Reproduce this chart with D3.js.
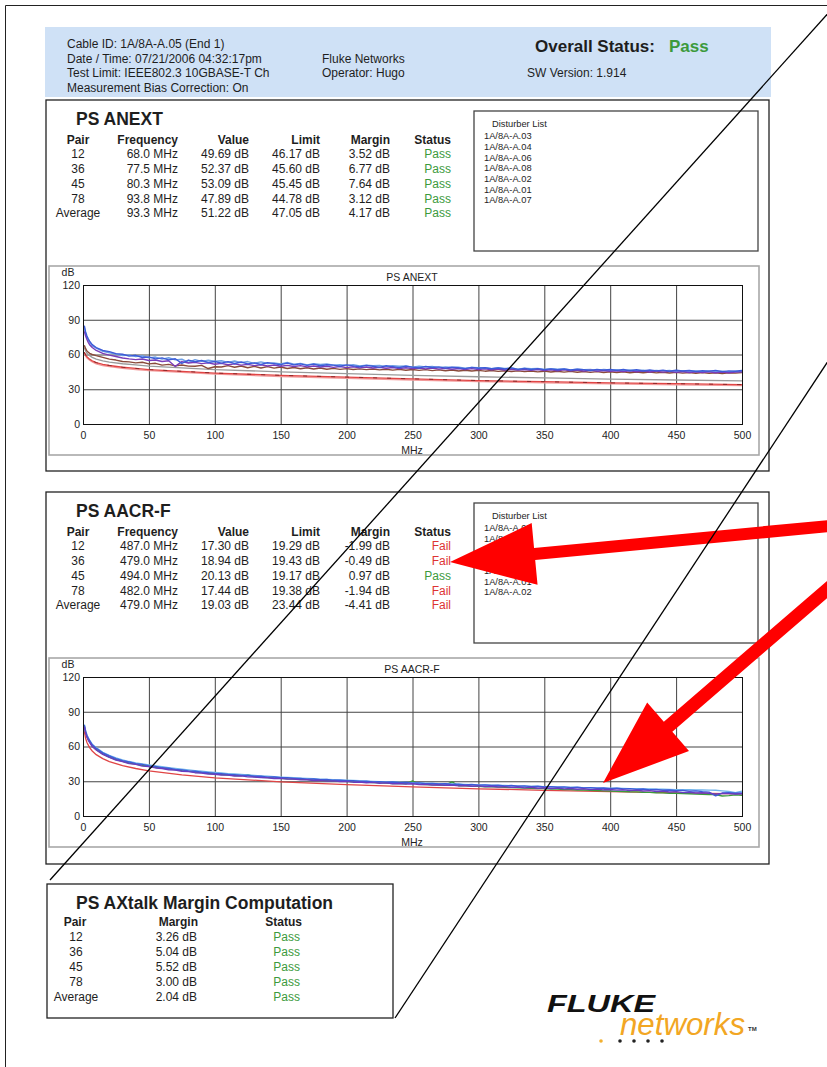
<!DOCTYPE html>
<html><head><meta charset="utf-8">
<script src="https://cdn.jsdelivr.net/npm/d3@7/dist/d3.min.js"></script>
<style>
html,body{margin:0;padding:0;background:#fff;}
svg{display:block;font-family:"Liberation Sans",Arial,sans-serif;}
</style></head><body>
<svg id="page" width="827" height="1067"></svg>
<script>
// ---- sweep frequencies (MHz) of the measured traces ----
const sweepMHz = [1,2,3,4,5,7,10,
 15,20,25,30,35,40,45,50,55,60,65,70,75,80,85,90,95,100,
 105,110,115,120,125,130,135,140,145,150,155,160,165,170,175,180,185,190,195,200,
 205,210,215,220,225,230,235,240,245,250,255,260,265,270,275,280,285,290,295,300,
 305,310,315,320,325,330,335,340,345,350,355,360,365,370,375,380,385,390,395,400,
 405,410,415,420,425,430,435,440,445,450,455,460,465,470,475,480,485,490,495,500];
// frequencies of the limit curves (MHz)
const limitMHz = [1,2,3,5,7,10,15,20,30,40,50,75,100,150,200,250,300,350,400,450,500];

// ---- PS ANEXT traces (dB) ----
const anextPair45 = [83,78,75,72.5,70.5,67.5,65.5,
 62.8,61.5,60.4,59.0,59.6,58.2,58.9,57.1,57.8,56.0,57.2,55.4,55.9,53.1,55.6,54.1,55.0,54.3,
 54.6,53.2,54.4,53.0,53.9,52.4,53.6,52.2,52.7,51.9,53.1,51.6,52.3,51.0,52.0,51.4,51.9,50.8,51.2,50.6,
 51.3,50.1,50.8,50.3,50.6,49.5,50.3,49.8,50.1,49.0,49.8,49.3,49.6,48.6,49.3,48.9,49.1,48.2,48.9,48.5,
 48.7,47.8,48.6,47.9,48.3,47.4,48.1,47.7,47.9,47.0,47.8,47.3,47.5,46.7,47.3,46.9,47.2,46.3,47.0,46.6,
 46.8,46.0,46.7,46.3,46.5,45.7,46.3,45.9,46.2,45.4,46.0,45.7,45.9,45.1,45.8,45.5,45.6,44.9,45.5,45.3];
const anextPair36 = [85,79.5,76,73.5,71.5,68.5,66,
 63.5,62.5,60.8,60.2,58.6,59.3,57.4,57.9,56.2,57.1,55.4,56.3,52.4,55.2,53.7,54.8,53.1,54.0,
 52.6,53.8,52.2,53.5,51.9,52.8,51.4,53.0,52.1,51.2,52.6,51.0,51.9,50.6,51.7,50.3,51.2,50.8,49.9,51.0,
 50.2,49.4,50.6,49.8,48.9,50.3,49.5,48.7,49.9,49.1,48.4,49.6,48.8,49.3,48.2,49.0,48.5,47.8,48.9,48.1,
 48.6,47.7,48.3,47.5,48.4,47.2,47.9,47.0,47.8,46.9,47.6,46.8,47.5,46.6,47.3,46.9,46.2,47.2,46.5,47.0,
 46.3,47.1,46.0,46.8,45.8,46.6,45.9,46.5,45.5,46.4,45.7,46.2,45.3,46.0,45.6,46.3,45.2,45.9,45.5,46.2];
const anextPair12 = [80,76,73,70.5,68.5,66,63.5,
 61.0,59.5,58.3,57.0,56.2,55.6,56.1,54.8,55.3,54.0,54.6,49.7,53.9,52.7,53.2,52.1,52.8,51.6,
 52.3,51.2,51.9,50.8,51.5,50.4,51.2,50.1,50.9,49.9,50.6,49.6,50.4,49.3,50.1,49.2,49.8,48.9,49.6,48.7,
 49.4,48.5,49.2,48.3,49.0,48.1,48.8,47.9,48.6,47.8,48.4,47.6,48.3,47.4,48.1,47.3,47.9,47.1,47.8,47.0,
 47.6,46.8,47.5,46.6,47.3,46.5,47.1,46.3,47.0,46.2,46.8,46.0,46.7,45.9,46.5,45.7,46.4,45.6,46.2,45.5,
 46.0,45.3,45.9,45.1,45.7,44.9,45.6,44.8,45.4,44.6,45.3,44.5,45.1,44.4,45.0,44.3,44.9,44.2,44.8,45.0];
const anextPair78 = [68,65,63,62,61,60,59,
 57.5,56.0,55.2,54.0,53.6,52.8,53.3,51.9,52.4,50.8,51.5,50.2,50.9,50.0,49.8,50.6,47.9,49.4,
 49.2,50.4,49.0,50.1,48.6,49.7,48.3,49.5,48.2,49.2,47.9,48.8,47.7,48.6,47.5,48.3,47.3,48.0,47.2,47.8,
 47.0,47.6,46.9,47.5,46.7,47.3,46.5,47.2,46.4,47.0,46.3,46.9,46.1,46.7,46.0,46.6,45.8,46.4,45.7,46.3,
 45.6,46.2,45.4,46.0,45.3,45.9,45.2,45.8,45.0,45.6,44.9,45.5,44.8,45.4,44.7,45.3,44.6,45.2,44.5,45.1,
 44.4,45.0,44.3,44.9,44.2,44.8,44.1,44.7,44.0,44.6,43.9,44.5,43.8,44.4,43.7,44.3,43.6,44.2,43.9,44.4];
const anextLimitUpper = [66,63,61,59,57.5,56,54.5,53.5,52,51,50,48.5,47,45,43.5,42,40.8,39.8,38.8,38,37.3];
const anextLimit = [62,59.5,58,56,54.5,53,51.5,50.5,49,48,47,45.5,44,42,40.5,39,37.5,36.5,35.5,34.8,34];
const anextLimitLower = [61,58.5,57,55,53.5,52,50.5,49.5,48,47,46,44.5,43,41,39.5,38,36.6,35.6,34.6,33.9,33.2];

// ---- PS AACR-F traces (dB) ----
const aacrfPair36 = [77,71.5,68,65.5,63.5,60,57,
 53.2,50.6,48.3,47.0,45.2,44.6,43.1,42.6,41.5,41.0,39.9,39.6,38.6,38.3,37.4,37.0,36.2,36.1,
 35.4,35.3,34.5,34.6,33.8,33.7,33.1,33.0,32.4,32.5,31.8,31.9,31.2,31.3,30.6,30.8,30.1,30.3,29.7,29.9,
 29.2,29.4,28.7,29.0,28.3,28.6,27.9,28.1,27.5,27.8,27.1,27.3,26.8,27.0,26.4,26.7,26.0,26.3,25.7,26.0,
 25.4,25.7,25.0,25.4,24.7,25.0,24.3,24.8,24.0,24.4,23.7,24.1,23.4,23.8,23.1,23.5,22.8,23.2,22.6,22.9,
 22.3,22.6,22.0,22.3,21.6,21.9,21.2,21.5,20.7,21.0,20.2,20.5,19.8,20.1,19.6,18.9,19.5,19.3,19.0,19.2];
const aacrfPair78 = [78.5,73,69.5,67,65,61.5,58.5,
 54.5,51.8,49.6,47.8,46.6,45.2,44.6,43.3,42.8,41.6,41.2,40.1,39.8,38.9,38.6,37.8,37.4,36.8,
 36.5,35.9,35.7,35.1,35.0,34.3,34.4,33.6,33.7,33.0,33.1,32.4,32.5,31.8,32.0,31.3,31.5,30.8,31.0,30.4,
 30.5,29.9,30.1,29.5,29.7,29.1,29.3,28.7,28.9,28.3,28.6,27.9,28.2,27.6,27.9,27.2,27.5,26.9,27.2,26.6,
 26.9,26.3,26.6,26.0,26.3,25.7,26.0,25.4,25.7,25.1,25.4,24.8,25.1,24.5,24.8,24.2,24.5,23.9,24.2,23.6,
 23.9,23.3,23.6,23.0,23.3,22.6,22.9,22.2,22.5,21.8,22.1,21.4,21.7,21.0,20.6,17.4,19.8,20.1,19.6,20.0];
const aacrfPair45 = [79,73.5,70,67.5,65.5,62,59,
 55.0,52.3,50.1,48.4,47.0,45.9,45.0,44.1,43.3,42.5,41.8,41.1,40.4,39.8,39.2,38.6,38.1,37.6,
 37.1,36.6,36.2,35.8,35.4,35.0,34.6,34.3,33.9,33.6,33.3,33.0,32.7,32.4,32.1,31.8,31.6,31.3,31.1,30.8,
 30.6,30.4,30.1,29.9,29.7,29.5,29.3,29.1,28.9,28.7,28.5,28.3,28.1,27.9,27.8,27.6,27.4,27.2,27.1,26.9,
 26.7,26.6,26.4,26.3,26.1,26.0,25.8,25.7,25.5,25.4,25.2,25.1,24.9,24.8,24.7,24.5,24.4,24.3,24.1,24.0,
 23.9,23.8,23.6,23.5,23.4,23.3,23.2,23.1,22.9,22.8,22.7,22.6,22.5,22.4,22.3,22.2,21.7,21.2,20.1,21.5];
const aacrfPair12 = [77.5,72,68.5,66,64,60.5,57.5,
 53.6,50.9,48.8,47.2,45.8,44.8,43.8,43.0,42.1,41.4,40.6,40.0,39.2,38.7,37.9,37.5,36.8,36.3,
 35.8,35.4,34.9,34.6,35.6,33.9,33.5,33.2,32.8,32.6,32.2,32.0,31.6,31.4,31.1,30.9,30.6,30.4,30.1,29.9,
 29.6,29.4,29.1,28.9,28.6,28.4,28.1,28.0,27.8,30.3,27.3,27.2,26.9,26.8,26.6,29.5,26.1,26.0,25.7,25.6,
 25.3,25.2,24.9,24.8,24.5,24.4,24.1,24.0,23.7,23.6,23.3,23.2,22.9,22.8,22.5,22.4,22.1,22.0,21.7,21.6,
 21.3,21.2,20.9,20.8,20.5,20.4,20.1,20.0,19.7,19.6,19.3,19.2,18.9,18.8,18.6,18.5,17.3,17.6,18.2,17.9];
const aacrfLimit = [73.0,67.0,63.5,59.0,56.1,53.0,49.5,47.0,43.5,41.0,39.0,35.5,33.0,29.5,27.0,25.1,23.5,22.2,21.0,20.0,19.1];

// ---- axis ticks ----
const xTicks = [0,50,100,150,200,250,300,350,400,450,500];
const yTicks = [0,30,60,90,120];

// ---- result tables ----
const pairs = ["12","36","45","78","Average"];
const anextFreq = ["68.0 MHz","77.5 MHz","80.3 MHz","93.8 MHz","93.3 MHz"];
const anextValue = ["49.69 dB","52.37 dB","53.09 dB","47.89 dB","51.22 dB"];
const anextLimitText = ["46.17 dB","45.60 dB","45.45 dB","44.78 dB","47.05 dB"];
const anextMargin = ["3.52 dB","6.77 dB","7.64 dB","3.12 dB","4.17 dB"];
const anextStatus = ["Pass","Pass","Pass","Pass","Pass"];
const aacrfFreq = ["487.0 MHz","479.0 MHz","494.0 MHz","482.0 MHz","479.0 MHz"];
const aacrfValue = ["17.30 dB","18.94 dB","20.13 dB","17.44 dB","19.03 dB"];
const aacrfLimitText = ["19.29 dB","19.43 dB","19.17 dB","19.38 dB","23.44 dB"];
const aacrfMargin = ["-1.99 dB","-0.49 dB","0.97 dB","-1.94 dB","-4.41 dB"];
const aacrfStatus = ["Fail","Fail","Pass","Fail","Fail"];
const axtalkMargin = ["3.26 dB","5.04 dB","5.52 dB","3.00 dB","2.04 dB"];
const axtalkStatus = ["Pass","Pass","Pass","Pass","Pass"];
const anextDisturbers = ["1A/8A-A.03","1A/8A-A.04","1A/8A-A.06","1A/8A-A.08","1A/8A-A.02","1A/8A-A.01","1A/8A-A.07"];
const aacrfDisturbers = ["1A/8A-A.03","1A/8A-A.04","1A/8A-A.06","1A/8A-A.08","1A/8A-A.07","1A/8A-A.01","1A/8A-A.02"];

const PASS = "#3c9a3c", FAIL = "#dd3333", INK = "#1e1e1e";
const svg = d3.select("#page");
svg.append("rect").attr("width",827).attr("height",1067).attr("fill","#fff");

function txt(x, y, s, o = {}) {
  return svg.append("text").attr("x", x).attr("y", y).attr("dy","0.35em")
    .attr("font-size", o.size || 12).attr("font-weight", o.weight || "normal")
    .attr("font-style", o.style || "normal")
    .attr("text-anchor", o.anchor || "start").attr("fill", o.fill || INK).text(s);
}
function box(x, y, w, h, stroke, sw) {
  svg.append("rect").attr("x",x).attr("y",y).attr("width",w).attr("height",h)
    .attr("fill","none").attr("stroke",stroke).attr("stroke-width",sw);
}

// page frame
svg.append("path").attr("d","M5.5,1067V5.5H827").attr("fill","none").attr("stroke","#222").attr("stroke-width",1);

// ---- header band ----
svg.append("rect").attr("x",45).attr("y",27).attr("width",726).attr("height",70).attr("fill","#cfe1f6");
txt(67,44,"Cable ID: 1A/8A-A.05 (End 1)");
txt(67,59,"Date / Time: 07/21/2006 04:32:17pm");
txt(67,73,"Test Limit: IEEE802.3 10GBASE-T Ch");
txt(67,88,"Measurement Bias Correction: On");
txt(322,59,"Fluke Networks");
txt(322,73,"Operator: Hugo");
txt(527,73,"SW Version: 1.914");
txt(535,46,"Overall Status:",{size:17,weight:"bold"});
txt(669,46,"Pass",{size:17,weight:"bold",fill:PASS});

// ---- result table ----
function resultTable(top, title, cols) {
  txt(76, top+19, title, {size:17.5, weight:"bold"});
  const heads = ["Pair","Frequency","Value","Limit","Margin","Status"];
  const xs = [78,178,249,320,390,451];
  heads.forEach((h,i)=>txt(xs[i], top+40, h, {weight:"bold", anchor: i===0?"middle":"end"}));
  pairs.forEach((p,r)=>{
    const y = top + 54 + r*14.8;
    txt(xs[0], y, p, {anchor:"middle"});
    cols.slice(0,4).forEach((c,i)=>txt(xs[i+1], y, c[r], {anchor:"end"}));
    txt(xs[5], y, cols[4][r], {anchor:"end", fill: cols[4][r]==="Pass"?PASS:FAIL});
  });
}
function disturberBox(top, names) {
  box(474, top, 284, 140, "#444", 1.3);
  txt(492, top+13, "Disturber List", {size:9.3});
  names.forEach((n,i)=>txt(484, top+25+i*10.7, n, {size:9.3}));
}

// ---- frequency chart ----
function chart(top, title, limits, traces) {
  box(49, top, 710, 189, "#a8a8a8", 1.6);
  const x = d3.scaleLinear().domain([0,500]).range([83,742]);
  const y = d3.scaleLinear().domain([0,120]).range([top+158, top+19]);
  const g = svg.append("g").attr("font-family",'"Liberation Sans",Arial,sans-serif');
  const gx = g.append("g").attr("transform",`translate(0,${y(0)})`)
    .call(d3.axisBottom(x).tickValues(xTicks).tickSize(-(y(0)-y(120))).tickPadding(8).tickFormat(d3.format("d")));
  const gy = g.append("g").attr("transform",`translate(${x(0)},0)`)
    .call(d3.axisLeft(y).tickValues(yTicks).tickSize(-(x(500)-x(0))).tickPadding(3).tickFormat(d3.format("d")));
  [gx,gy].forEach(a=>{
    a.select(".domain").remove();
    a.selectAll(".tick line").attr("stroke","#444").attr("stroke-width",1);
    a.selectAll(".tick text").attr("font-size",10.5).attr("fill",INK);
  });
  const clipId = "clip" + top;
  g.append("clipPath").attr("id",clipId).append("rect")
    .attr("x",x(0)).attr("y",y(120)).attr("width",x(500)-x(0)).attr("height",y(0)-y(120));
  const line = d3.line().x(d=>x(d[0])).y(d=>y(d[1]));
  const series = g.append("g").attr("clip-path",`url(#${clipId})`);
  limits.forEach(s=>series.append("path").datum(d3.zip(limitMHz, s.v))
    .attr("d",line).attr("fill","none").attr("stroke",s.c).attr("stroke-width",s.w||1.3)
    .attr("stroke-dasharray",s.dash||null));
  traces.forEach(s=>series.append("path").datum(d3.zip(sweepMHz, s.v))
    .attr("d",line).attr("fill","none").attr("stroke",s.c).attr("stroke-width",1.4)
    .attr("stroke-linejoin","round"));
  g.append("rect").attr("x",x(0)+0.5).attr("y",y(120)+0.5).attr("width",x(500)-x(0)).attr("height",y(0)-y(120))
    .attr("fill","none").attr("stroke","#111").attr("stroke-width",1);
  txt(68, top+6, "dB", {size:10.5, anchor:"middle"});
  txt(412, top+11, title, {size:10.5, anchor:"middle"});
  txt(412, top+184, "MHz", {size:10.5, anchor:"middle"});
}

// ---- section 1: PS ANEXT ----
box(46, 100, 723, 371, "#222", 1.3);
resultTable(100, "PS ANEXT", [anextFreq, anextValue, anextLimitText, anextMargin, anextStatus]);
disturberBox(111, anextDisturbers);
chart(266, "PS ANEXT",
  [{v:anextLimitUpper,c:"#9a9a9a"},{v:anextLimitLower,c:"#f29a9a"},{v:anextLimit,c:"#e04545"},
   {v:anextLimit,c:"#8e2a2a",dash:"4,10",w:1}],
  [{v:anextPair78,c:"#8a4a3a"},{v:anextPair45,c:"#6e9fe4"},{v:anextPair12,c:"#7a3cb8"},{v:anextPair36,c:"#3d5bd8"}]);

// ---- section 2: PS AACR-F ----
box(46, 492, 723, 372, "#222", 1.3);
resultTable(492, "PS AACR-F", [aacrfFreq, aacrfValue, aacrfLimitText, aacrfMargin, aacrfStatus]);
disturberBox(503, aacrfDisturbers);
chart(658, "PS AACR-F",
  [{v:aacrfLimit,c:"#e04545"}],
  [{v:aacrfPair12,c:"#3c9a3c"},{v:aacrfPair45,c:"#6fb2ea"},{v:aacrfPair78,c:"#3d5bd8"},{v:aacrfPair36,c:"#6a3cc0"}]);

// ---- PS AXtalk margin computation ----
box(47, 884, 346, 134, "#222", 1.3);
txt(76, 903, "PS AXtalk Margin Computation", {size:17.5, weight:"bold"});
txt(75, 922, "Pair", {weight:"bold", anchor:"middle"});
txt(198, 922, "Margin", {weight:"bold", anchor:"end"});
txt(302, 922, "Status", {weight:"bold", anchor:"end"});
pairs.forEach((p,r)=>{
  const y = 937 + r*15;
  txt(76, y, p, {anchor:"middle"});
  txt(197, y, axtalkMargin[r], {anchor:"end"});
  txt(300, y, axtalkStatus[r], {anchor:"end", fill:PASS});
});

// ---- logo ----
txt(547, 1004, "FLUKE", {size:24, weight:"bold", style:"italic", fill:"#111"})
  .attr("textLength",108).attr("lengthAdjust","spacingAndGlyphs");
txt(620, 1024, "networks", {size:32, style:"italic", fill:"#f2a623"})
  .attr("textLength",125).attr("lengthAdjust","spacingAndGlyphs");
txt(748, 1029, "TM", {size:6, weight:"bold", fill:"#333"});
const dots = [[601,"#f2b030"],[620,"#222"],[634,"#222"],[648,"#222"],[662,"#222"]];
dots.forEach(d=>svg.append("circle").attr("cx",d[0]).attr("cy",1041).attr("r",1.8).attr("fill",d[1]));

// ---- callout arrows and guide lines ----
function arrowPath(tip, tail, headLen, headHalf, shaftHalf) {
  const dx = tail[0]-tip[0], dy = tail[1]-tip[1], L = Math.hypot(dx,dy);
  const ux = dx/L, uy = dy/L, nx = -uy, ny = ux;
  const bx = tip[0]+ux*headLen, by = tip[1]+uy*headLen;
  const pts = [tip,[bx+nx*headHalf,by+ny*headHalf],[bx+nx*shaftHalf,by+ny*shaftHalf],
    [tail[0]+nx*shaftHalf,tail[1]+ny*shaftHalf],[tail[0]-nx*shaftHalf,tail[1]-ny*shaftHalf],
    [bx-nx*shaftHalf,by-ny*shaftHalf],[bx-nx*headHalf,by-ny*headHalf]];
  return "M" + pts.map(p=>p.join(",")).join("L") + "Z";
}
const arrows = [
  {tip:[450,562], tail:[840,525], head:85, half:31, shaft:6},
  {tip:[603,783], tail:[845,574], head:86, half:32, shaft:6.5}
];
arrows.forEach(a=>svg.append("path").attr("d",arrowPath(a.tip,a.tail,a.head,a.half,a.shaft)).attr("fill","#ff0000"));
const guides = [[[840,0],[50,880]],[[840,343],[395,1018]]];
guides.forEach(l=>svg.append("line").attr("x1",l[0][0]).attr("y1",l[0][1]).attr("x2",l[1][0]).attr("y2",l[1][1])
  .attr("stroke","#000").attr("stroke-width",1.3));
</script>
</body></html>
